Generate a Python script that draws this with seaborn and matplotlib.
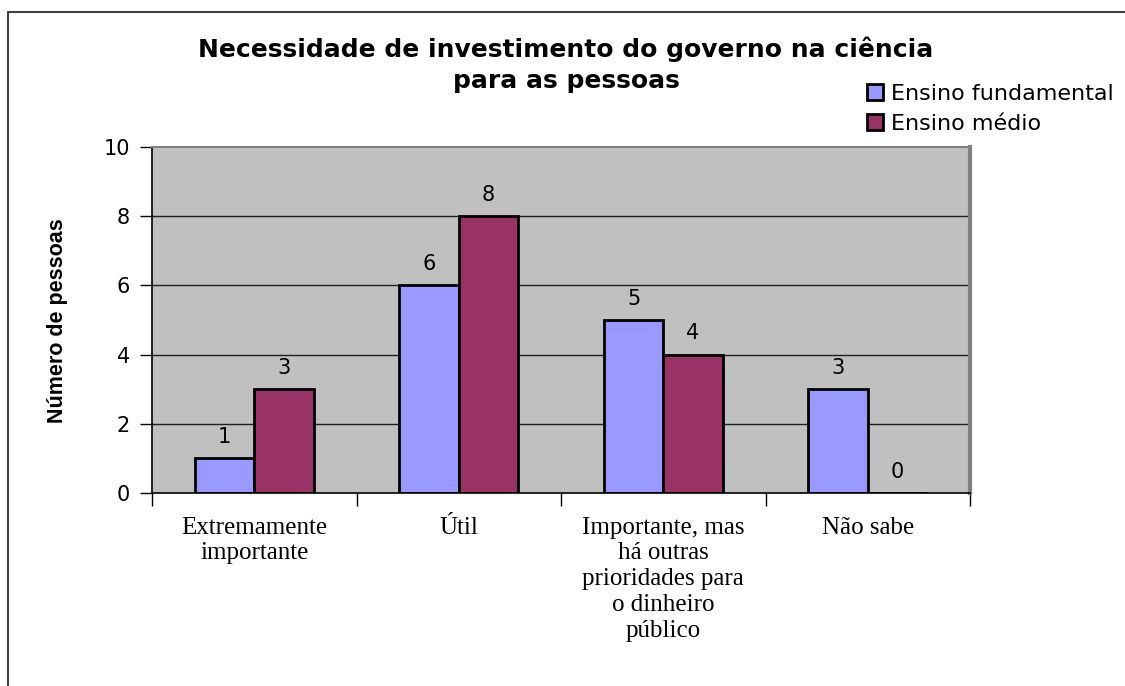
import pandas as pd
import numpy as np
import matplotlib
matplotlib.use('Agg')
import matplotlib.pyplot as plt
from matplotlib.lines import Line2D
from matplotlib.patches import Patch
import seaborn as sns

categorias = ['Extremamente\nimportante', 'Útil',
              'Importante, mas\nhá outras\nprioridades para\no dinheiro\npúblico',
              'Não sabe']
series = ['Ensino fundamental', 'Ensino médio']
fundamental = [1, 6, 5, 3]
medio = [3, 8, 4, 0]
cores = ['#9999FF', '#993366']

df = pd.DataFrame({
    'categoria': categorias * 2,
    'serie': [series[0]] * 4 + [series[1]] * 4,
    'valor': fundamental + medio,
})

sns.set_style('white')
plt.rcParams['font.family'] = ['DejaVu Sans']
plt.rcParams['text.color'] = 'black'
plt.rcParams['xtick.color'] = 'black'
plt.rcParams['ytick.color'] = 'black'
plt.rcParams['xtick.labelcolor'] = 'black'
plt.rcParams['ytick.labelcolor'] = 'black'

fig = plt.figure(figsize=(11.25, 6.86), dpi=100)
ax = fig.add_axes([152 / 1125, 1 - 493 / 686, 818 / 1125, 346 / 686])
ax.set_facecolor('#C0C0C0')

sns.barplot(data=df, x='categoria', y='valor', hue='serie', order=categorias,
            hue_order=series, palette=cores, width=0.58, edgecolor='black',
            linewidth=2, saturation=1, ax=ax, legend=False)

for cont in ax.containers:
    ax.bar_label(cont, fmt='%d', padding=8, fontsize=15, color='black')

ax.set_ylim(0, 10)
ax.set_xlim(-0.5, 3.5)
ax.set_yticks([0, 2, 4, 6, 8, 10])
ax.tick_params(axis='y', direction='out', length=9, width=1, labelsize=15, pad=7, left=True)
ax.set_xticks(np.arange(-0.5, 4.0, 1.0), minor=True)
ax.tick_params(axis='x', which='minor', direction='out', length=9, width=1, bottom=True)
ax.tick_params(axis='x', which='major', length=0, pad=17)
for lab in ax.get_xticklabels():
    lab.set_family(['Liberation Serif', 'DejaVu Serif'])
    lab.set_fontsize(18)
    lab.set_linespacing(1.22)
    lab.set_va('top')
ax.set_xlabel('')
ax.set_ylabel('')

for y in [2, 4, 6, 8]:
    ax.axhline(y, color='#202020', lw=1, zorder=0.5)
ax.set_axisbelow(True)

ax.spines['left'].set_color('black')
ax.spines['bottom'].set_color('black')
ax.spines['left'].set_linewidth(1.2)
ax.spines['bottom'].set_linewidth(1.2)
ax.spines['top'].set_color('#808080')
ax.spines['top'].set_linewidth(1.5)
ax.spines['right'].set_color('#808080')
ax.spines['right'].set_linewidth(3)

# moldura do gráfico
fig.add_artist(Line2D([8 / 1125, 8 / 1125], [0, 1 - 12 / 686], color='#404040', lw=1.5))
fig.add_artist(Line2D([8 / 1125, 1], [1 - 12 / 686, 1 - 12 / 686], color='#404040', lw=1.5))

fig.text(566 / 1125, 1 - 36 / 686,
         'Necessidade de investimento do governo na ciência\npara as pessoas',
         ha='center', va='top', fontsize=18, fontweight='bold', linespacing=1.42)

fig.text(57 / 1125, 1 - 321 / 686, 'Número de pessoas', rotation=90,
         ha='center', va='center', fontsize=15.5, fontweight='bold',
         family=['Liberation Sans', 'DejaVu Sans'])

handles = [Patch(facecolor=c, edgecolor='black', linewidth=2) for c in cores]
fig.legend(handles, series, loc='upper left',
           bbox_to_anchor=(867 / 1125, 1 - 84 / 686), frameon=False,
           fontsize=16, handlelength=0.7, handleheight=0.7,
           handletextpad=0.4, labelspacing=0.45, borderaxespad=0, borderpad=0)

fig.savefig('out.png', dpi=100)
